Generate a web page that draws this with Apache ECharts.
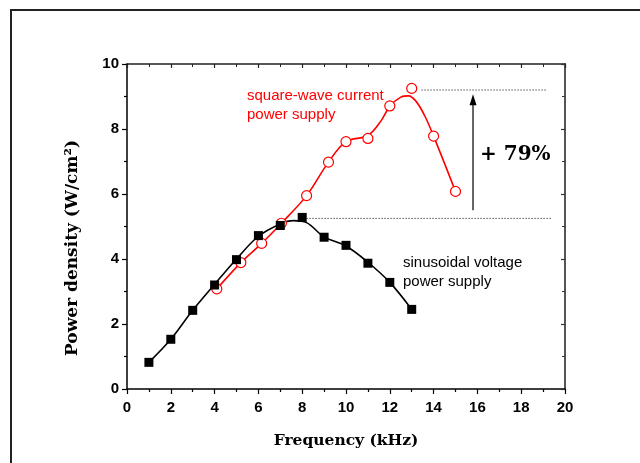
<!DOCTYPE html>
<html><head><meta charset="utf-8">
<script src="https://cdn.jsdelivr.net/npm/echarts@6/dist/echarts.min.js"></script>
<style>html,body{margin:0;padding:0;background:#fff}#c{width:640px;height:463px}</style>
</head><body><div id="c"></div>
<script>
// ---- data ----
const sinX = [1,2,3,4,5,6,7,8,9,10,11,12,13];
const sinY = [0.82,1.53,2.42,3.2,3.98,4.72,5.03,5.28,4.67,4.42,3.87,3.28,2.45];
const sqX = [4.1,5.2,6.15,7.05,8.2,9.2,10,11,12,13,14,15];
const sqY = [3.08,3.89,4.48,5.1,5.95,6.98,7.61,7.71,8.71,9.25,7.78,6.08];
// smoothed curves as drawn in the picture
const sinFitX = [1,2,3,4,5,6,7,7.6,8.2,9,10,11,12,13];
const sinFitY = [0.82,1.53,2.42,3.22,4.0,4.7,5.08,5.18,5.12,4.68,4.4,3.9,3.28,2.45];
const sqFitX = [4.1,5.2,6.15,7.05,8.2,9.2,10,11,11.6,12,12.5,12.85,13.2,13.6,14,15];
const sqFitY = [3.08,3.89,4.48,5.1,5.95,6.98,7.61,7.8,8.25,8.7,8.98,9.02,8.85,8.4,7.78,6.08];
const upperRefX = [13.45,19.2], upperRefY = 9.2;
const lowerRefX = [8.2,19.4], lowerRefY = 5.25;
const arrowX = 15.8, arrowY = [5.5,8.9];
const xTicks = [0,2,4,6,8,10,12,14,16,18,20];
const yTicks = [0,2,4,6,8,10];

const zip = (xs, ys) => xs.map((x,i)=>[x, ys[i]]);
const chart = echarts.init(document.getElementById('c'), null, {renderer:'canvas'});
const tickFont = {fontFamily:'Liberation Sans, Arial', fontWeight:'bold', fontSize:15, color:'#000'};
const serif = 'DejaVu Serif';
chart.setOption({
  animation:false,
  grid:{left:127, right:75, top:64, bottom:74},
  graphic:[
    {type:'rect', shape:{x:11, y:10, width:1000, height:1000}, style:{fill:'none', stroke:'#222', lineWidth:2}},
    {type:'text', left:247, top:86, style:{text:'square-wave current\npower supply', fill:'#ff0000', font:'15px "Liberation Sans", Arial', lineHeight:19}},
    {type:'text', left:403, top:253, style:{text:'sinusoidal voltage\npower supply', fill:'#000', font:'15px "Liberation Sans", Arial', lineHeight:19}},
    {type:'text', left:480, top:145, style:{text:'+ 79%', fill:'#000', font:'bold 20px "DejaVu Serif"'}},
    {type:'text', x:73, y:248, rotation:Math.PI/2,
      style:{text:'Power density (W/cm²)', fill:'#000', font:'bold 17px "DejaVu Serif"', align:'center', verticalAlign:'middle'}}
  ],
  xAxis:[{
    type:'value', min:0, max:20, interval:2,
    name:'Frequency (kHz)', nameLocation:'middle', nameGap:44,
    nameTextStyle:{fontFamily:serif, fontWeight:'bold', fontSize:15.5, color:'#000'},
    axisLine:{show:true, onZero:false, lineStyle:{color:'#000', width:1.5}},
    axisTick:{show:true, inside:false, length:5, lineStyle:{color:'#000', width:1.2}},
    minorTick:{show:true, splitNumber:2, length:3, lineStyle:{color:'#000', width:1.2}},
    splitLine:{show:false},
    axisLabel:Object.assign({margin:11, customValues:xTicks}, tickFont)
  },{
    type:'value', position:'top', min:0, max:20, interval:2,
    axisLine:{show:true, onZero:false, lineStyle:{color:'#222', width:1.5}},
    axisTick:{show:true, inside:true, length:4, lineStyle:{color:'#222', width:1.2}},
    minorTick:{show:true, splitNumber:2, length:3, lineStyle:{color:'#222'}},
    axisLabel:{show:false}, splitLine:{show:false}
  }],
  yAxis:[{
    type:'value', min:0, max:10, interval:2,
    axisLine:{show:true, onZero:false, lineStyle:{color:'#000', width:1.5}},
    axisTick:{show:true, inside:false, length:5, lineStyle:{color:'#000', width:1.2}},
    minorTick:{show:true, splitNumber:2, length:3, lineStyle:{color:'#000', width:1.2}},
    splitLine:{show:false},
    axisLabel:Object.assign({margin:8, customValues:yTicks}, tickFont)
  },{
    type:'value', position:'right', min:0, max:10, interval:2,
    axisLine:{show:true, onZero:false, lineStyle:{color:'#555', width:2}},
    axisTick:{show:true, inside:true, length:4, lineStyle:{color:'#333', width:1.2}},
    minorTick:{show:true, splitNumber:2, length:3, lineStyle:{color:'#333'}},
    axisLabel:{show:false}, splitLine:{show:false}
  }],
  series:[
    {type:'line', data:zip(sinFitX, sinFitY), smooth:0.35, showSymbol:false, lineStyle:{color:'#000', width:1.6}, z:2},
    {type:'line', data:zip(sqFitX, sqFitY), smooth:0.35, showSymbol:false, lineStyle:{color:'#ff0000', width:1.6}, z:2},
    {type:'scatter', data:zip(sqX, sqY), symbol:'circle', symbolSize:10, itemStyle:{color:'#fff', borderColor:'#ff0000', borderWidth:1.2, opacity:1}, z:4},
    {type:'scatter', data:zip(sinX, sinY), symbol:'rect', symbolSize:9, itemStyle:{color:'#000', opacity:1}, z:5},
    {type:'line', data:upperRefX.map(x=>[x, upperRefY]), showSymbol:false, lineStyle:{color:'#000', width:1, type:[1,2]}, z:1},
    {type:'line', data:lowerRefX.map(x=>[x, lowerRefY]), showSymbol:false, lineStyle:{color:'#000', width:1, type:[1,2]}, z:1},
    {type:'line', data:[{value:[arrowX, arrowY[0]], symbol:'none'},{value:[arrowX, arrowY[1]], symbol:'triangle', symbolSize:[7,11], itemStyle:{color:'#000'}}],
      showSymbol:true, lineStyle:{color:'#666', width:2}, z:3},
    {type:'line', xAxisIndex:1, yAxisIndex:1, data:[], showSymbol:false}
  ]
});
</script></body></html>
